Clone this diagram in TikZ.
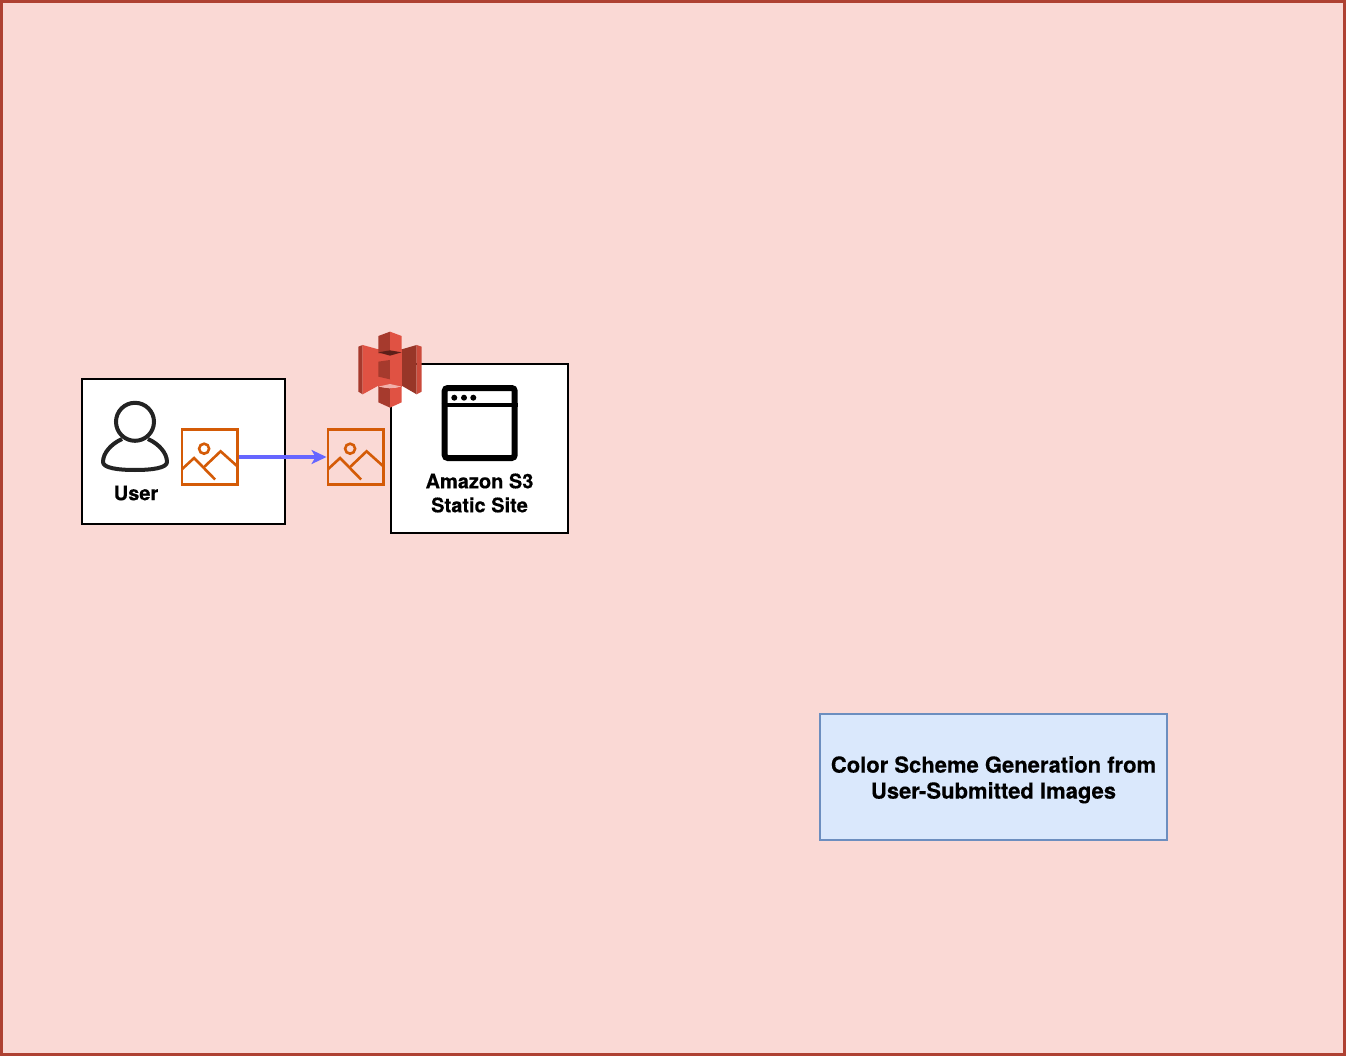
\documentclass[tikz,border=0pt]{standalone}
\usepackage{fontspec}
\setmainfont[BoldFeatures={FakeBold=0.3}]{TeX Gyre Heros}
\usepackage{xcolor}
\usetikzlibrary{arrows.meta,positioning,calc}
\definecolor{framered}{HTML}{AE4132}
\definecolor{framefill}{HTML}{FAD9D5}
\definecolor{titleblue}{HTML}{6C8EBF}
\definecolor{titlefill}{HTML}{DAE8FC}
\definecolor{iconorange}{HTML}{D45B07}
\definecolor{arrowblue}{HTML}{6666FF}
\definecolor{usergrey}{HTML}{232323}
\definecolor{bucketmid}{HTML}{E05243}
\definecolor{bucketdark}{HTML}{8C3123}
\definecolor{bucketshade}{HTML}{A63A2D}
\definecolor{bucketdeep}{HTML}{5E1F18}
\definecolor{bucketpale}{HTML}{F2B0A9}

\begin{document}
\begin{tikzpicture}[
  x=1pt,y=-1pt,
  frame/.style={rectangle,draw=framered,fill=framefill,line width=3pt,minimum width=1343pt,minimum height=1053pt},
  whitebox/.style={rectangle,draw=black,fill=white,line width=2pt,outer sep=0pt},
  title/.style={rectangle,draw=titleblue,fill=titlefill,line width=2.2pt,minimum width=347pt,minimum height=126pt,align=center,font=\fontsize{22}{26}\selectfont\bfseries},
  lbl/.style={align=center,inner sep=0pt,font=\fontsize{20}{24}\selectfont\bfseries},
  imgbox/.style={rectangle,draw=iconorange,line width=2.6pt,minimum size=55.5pt,outer sep=1.3pt,inner sep=0pt,
    path picture={
      \draw[iconorange,line width=2.6pt] ($(path picture bounding box.center)+(-5.5,-8.3)$) circle (5pt);
      \draw[iconorange,line width=2.6pt] ($(path picture bounding box.center)+(-28.5,13)$)--++(13,-12)--++(21,21.5);
      \draw[iconorange,line width=2.6pt] ($(path picture bounding box.center)+(-5.5,10)$)--++(16.5,-15.7)--++(17.5,15.7);
    }},
  arr/.style={-{Stealth[length=15pt,width=14pt,inset=4pt]},line width=3.2pt,draw=arrowblue}
]
\useasboundingbox (0,0) rectangle (1346,1056);
\node[frame] (bg) at (673,528) {};
\node[whitebox,minimum width=203pt,minimum height=145pt] (userbox) at (183.5,451.5) {};
\node[whitebox,minimum width=177pt,minimum height=169pt] (sitebox) at (479.5,448.5) {};
\node[title] (note) at (993.5,777) {\rule{0pt}{22pt}Color Scheme Generation from\\User-Submitted Images};

% user
\node[circle,draw=usergrey,line width=4pt,minimum size=38pt,inner sep=0pt] (head) at (135,421.8) {};
\draw[usergrey,line width=4pt,line join=round] (122,439) .. controls (111,444) and (103,453) .. (103,462)
  .. controls (103,468) and (118,470) .. (135,470) .. controls (152,470) and (167,468) .. (167,462)
  .. controls (167,453) and (159,444) .. (148,439);
\node[lbl] (userlbl) at (136,493) {User};

% images
\node[imgbox] (img) at (209.6,457) {};
\node[imgbox] (upload) at (355.6,457) {};
\draw[arr] (img)--(upload);

% window
\node[rectangle,draw=black,line width=6pt,rounded corners=3pt,minimum width=70pt,minimum height=70pt,inner sep=0pt] (win) at (479.7,423) {};
\coordinate (winbar) at (479.7,405);
\draw[line width=3.5pt] (win.west|-winbar)--(win.east|-winbar);
\foreach \dx in {454.3,464,473.3} \fill (\dx,397.7) circle (3pt);
\node[lbl] (sitelbl) at (479.5,493) {Amazon S3\\Static Site};

% bucket
\begin{scope}[shift={(350,325)},x=0.3333pt,y=-0.3333pt]
\fill[bucketshade] (25,65)--(38,60)--(38,208)--(25,200)--cycle;
\fill[bucketmid] (38,60)--(85,73)--(85,182)--(38,208)--cycle;
\fill[bucketdark!85!bucketmid] (155,73)--(200,60)--(200,208)--(155,182)--cycle;
\fill[bucketmid!75!bucketdark] (200,60)--(215,65)--(215,200)--(200,208)--cycle;
\fill[bucketmid] (85,73)--(155,73)--(155,185)--(85,185)--cycle;
\fill[bucketshade] (85,33)--(120,20)--(120,85)--(85,85)--cycle;
\fill[bucketmid] (120,20)--(155,33)--(155,85)--(120,85)--cycle;
\fill[bucketdeep] (85,82)--(120,76)--(155,82)--(120,92)--cycle;
\fill[bucketshade] (85,110)--(120,105)--(120,163)--(85,155)--cycle;
\fill[bucketmid] (120,105)--(155,110)--(155,155)--(120,163)--cycle;
\fill[bucketshade] (85,185)--(120,190)--(120,248)--(85,232)--cycle;
\fill[bucketmid] (120,190)--(155,185)--(155,232)--(120,248)--cycle;
\fill[bucketpale] (85,185)--(120,177)--(155,185)--(120,190)--cycle;
\end{scope}
\end{tikzpicture}
\end{document}
